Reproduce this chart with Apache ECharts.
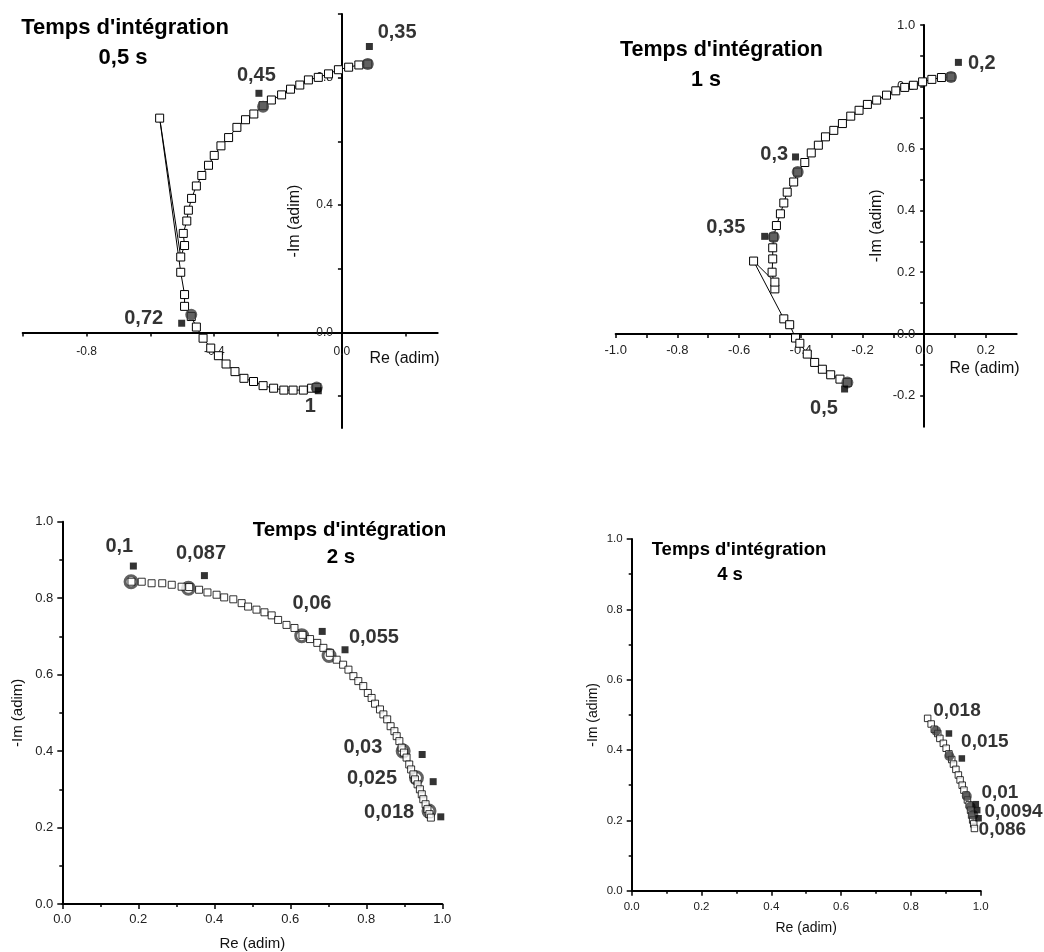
<!DOCTYPE html>
<html><head><meta charset="utf-8">
<script src="https://cdn.jsdelivr.net/npm/echarts/dist/echarts.min.js"></script>
<style>html,body{margin:0;padding:0;background:#fff}#c{width:1044px;height:952px}</style>
</head><body><div id="c"></div>
<script>
// ---------- Panel 1 : 0,5 s ----------
const p1Squares = [[0.081,0.843],[0.053,0.840],[0.021,0.833],[-0.011,0.825],[-0.042,0.812],[-0.074,0.801],[-0.105,0.793],[-0.132,0.777],[-0.161,0.764],[-0.189,0.746],[-0.221,0.730],[-0.247,0.712],[-0.276,0.686],[-0.302,0.668],[-0.329,0.644],[-0.355,0.612],[-0.379,0.586],[-0.400,0.556],[-0.418,0.525],[-0.439,0.493],[-0.456,0.460],[-0.471,0.421],[-0.481,0.384],[-0.486,0.350],[-0.497,0.311],[-0.493,0.273],[-0.505,0.237],[-0.571,0.673],[-0.505,0.189],[-0.493,0.119],[-0.493,0.082],[-0.472,0.050],[-0.456,0.017],[-0.435,-0.018],[-0.411,-0.049],[-0.387,-0.073],[-0.363,-0.099],[-0.335,-0.123],[-0.307,-0.144],[-0.277,-0.154],[-0.247,-0.167],[-0.214,-0.175],[-0.182,-0.181],[-0.153,-0.181],[-0.121,-0.181],[-0.095,-0.175],[-0.079,-0.173]];
const p1Circles = [[0.081,0.843],[-0.247,0.709],[-0.472,0.056],[-0.079,-0.173]];
const p1Marks = [[0.086,0.898],[-0.260,0.751],[-0.502,0.029],[-0.074,-0.183]];
const p1Notes = [['0,35',0.173,0.941],['0,45',-0.268,0.806],['0,72',-0.621,0.043],['1',-0.099,-0.233]];
const p1Title = ["Temps d'intégration", '0,5 s'];
const p1XTicks = [-1.0,-0.8,-0.6,-0.4,-0.2,0,0.2];
const p1XLabels = [-0.8,-0.4,0];
const p1YTicks = [-0.2,0,0.2,0.4,0.6,0.8,1.0];
const p1YLabels = [0,0.4,0.8];

// ---------- Panel 2 : 1 s ----------
const p2Squares = [[0.087,0.832],[0.056,0.830],[0.025,0.824],[-0.005,0.816],[-0.035,0.805],[-0.063,0.798],[-0.092,0.787],[-0.122,0.773],[-0.154,0.757],[-0.184,0.743],[-0.211,0.724],[-0.238,0.705],[-0.265,0.681],[-0.293,0.659],[-0.320,0.638],[-0.343,0.611],[-0.366,0.586],[-0.387,0.555],[-0.410,0.524],[-0.423,0.492],[-0.444,0.459],[-0.455,0.424],[-0.466,0.389],[-0.479,0.351],[-0.488,0.314],[-0.491,0.279],[-0.491,0.243],[-0.493,0.200],[-0.484,0.146],[-0.484,0.168],[-0.553,0.236],[-0.455,0.049],[-0.436,0.030],[-0.417,-0.013],[-0.403,-0.030],[-0.379,-0.065],[-0.355,-0.092],[-0.330,-0.114],[-0.303,-0.132],[-0.273,-0.146],[-0.249,-0.157]];
const p2Circles = [[0.087,0.832],[-0.410,0.524],[-0.488,0.314],[-0.249,-0.157]];
const p2Marks = [[0.111,0.879],[-0.417,0.573],[-0.517,0.316],[-0.258,-0.178]];
const p2Notes = [['0,2',0.187,0.874],['0,3',-0.486,0.580],['0,35',-0.643,0.345],['0,5',-0.325,-0.242]];
const p2Title = ["Temps d'intégration", '1 s'];
const p2XTicks = [-1.0,-0.9,-0.8,-0.7,-0.6,-0.5,-0.4,-0.3,-0.2,-0.1,0,0.1,0.2];
const p2XLabels = [-1.0,-0.8,-0.6,-0.4,-0.2,0,0.2];
const p2YTicks = [-0.2,-0.1,0,0.1,0.2,0.3,0.4,0.5,0.6,0.7,0.8,0.9,1.0];
const p2YLabels = [-0.2,0,0.2,0.4,0.6,0.8,1.0];

// ---------- Panel 3 : 2 s ----------
const p3Squares = [[0.182,0.843],[0.209,0.843],[0.235,0.839],[0.263,0.839],[0.288,0.835],[0.314,0.830],[0.334,0.829],[0.360,0.822],[0.382,0.815],[0.406,0.809],[0.426,0.802],[0.450,0.797],[0.472,0.787],[0.489,0.778],[0.511,0.770],[0.532,0.763],[0.551,0.755],[0.568,0.743],[0.590,0.730],[0.611,0.722],[0.632,0.704],[0.652,0.693],[0.671,0.683],[0.687,0.670],[0.704,0.657],[0.722,0.639],[0.739,0.626],[0.753,0.613],[0.766,0.596],[0.779,0.583],[0.792,0.570],[0.804,0.552],[0.814,0.539],[0.823,0.524],[0.836,0.509],[0.845,0.496],[0.855,0.483],[0.864,0.465],[0.874,0.452],[0.880,0.439],[0.887,0.426],[0.893,0.409],[0.899,0.396],[0.906,0.383],[0.913,0.365],[0.918,0.352],[0.924,0.339],[0.928,0.326],[0.935,0.313],[0.941,0.300],[0.946,0.287],[0.950,0.274],[0.956,0.261],[0.961,0.248],[0.966,0.235],[0.970,0.226]];
const p3Circles = [[0.181,0.843],[0.332,0.826],[0.630,0.702],[0.702,0.650],[0.897,0.400],[0.932,0.330],[0.965,0.243]];
const p3Marks = [[0.187,0.884],[0.374,0.859],[0.684,0.713],[0.744,0.665],[0.947,0.391],[0.976,0.320],[0.996,0.228]];
const p3Notes = [['0,1',0.150,0.934],['0,087',0.365,0.918],['0,06',0.657,0.785],['0,055',0.820,0.697],['0,03',0.791,0.410],['0,025',0.815,0.329],['0,018',0.860,0.240]];
const p3Title = ["Temps d'intégration", '2 s'];

// ---------- Panel 4 : 4 s ----------
const p4Squares = [[0.848,0.490],[0.858,0.474],[0.867,0.459],[0.877,0.447],[0.883,0.433],[0.893,0.419],[0.901,0.405],[0.909,0.389],[0.917,0.373],[0.922,0.360],[0.929,0.345],[0.936,0.329],[0.941,0.315],[0.947,0.300],[0.952,0.286],[0.958,0.272],[0.962,0.258],[0.967,0.244],[0.971,0.229],[0.974,0.215],[0.977,0.201],[0.980,0.190],[0.982,0.177]];
const p4Circles = [[0.872,0.455],[0.910,0.383],[0.960,0.269],[0.971,0.239],[0.979,0.215]];
const p4Marks = [[0.909,0.447],[0.946,0.376],[0.986,0.246],[0.990,0.229],[0.994,0.206]];
const p4Notes = [['0,018',0.932,0.511],['0,015',1.012,0.423],['0,01',1.055,0.278],['0,0094',1.094,0.224],['0,086',1.062,0.173]];
const p4Title = ["Temps d'intégration", '4 s'];

const unitTicks = [0,0.2,0.4,0.6,0.8,1.0];

// ---------------- building ----------------
const FONT = 'Arial, "Liberation Sans", Helvetica, sans-serif';
const chart = echarts.init(document.getElementById('c'), null, {renderer:'canvas'});

const panels = [
  {grid:{left:22.7,top:14,width:415,height:414}, x:[-1.0,0.3], y:[-0.3,1.0], cross:true,
   xt:p1XTicks, xl:p1XLabels, yt:p1YTicks, yl:p1YLabels, lab:12, xMargin:13, nameSize:16,
   xName:{loc:'end', gap:2, pad:18}, yName:{gap:39},
   sq:p1Squares, sqSize:8, line:true, ci:p1Circles, ciSize:12, ring:false, mk:p1Marks, mkSize:7, notes:p1Notes, noteSize:20,
   title:p1Title, tSize:22, t1:[125,28], t2:[123,58]},
  {grid:{left:615.7,top:25,width:401,height:401.7}, x:[-1.0,0.3], y:[-0.3,1.0], cross:true,
   xt:p2XTicks, xl:p2XLabels, yt:p2YTicks, yl:p2YLabels, lab:13, xMargin:10, nameSize:16,
   xName:{loc:'end', gap:3, pad:27}, yName:{gap:40},
   sq:p2Squares, sqSize:8, line:true, ci:p2Circles, ciSize:12, ring:false, mk:p2Marks, mkSize:7, notes:p2Notes, noteSize:20,
   title:p2Title, tSize:21.5, t1:[721.5,50], t2:[706,80]},
  {grid:{left:62.3,top:521.7,width:380,height:383.3}, x:[0,1], y:[0,1], cross:false,
   lab:13, xMargin:9, nameSize:15, xName:{loc:'middle', gap:32}, yName:{gap:37},
   sq:p3Squares, sqSize:7, line:false, ci:p3Circles, ciSize:12, ring:true, mk:p3Marks, mkSize:7, notes:p3Notes, noteSize:20,
   title:p3Title, tSize:20.5, t1:[349.5,530], t2:[341,557]},
  {grid:{left:631.7,top:539,width:349,height:351.7}, x:[0,1], y:[0,1], cross:false,
   lab:11.5, xMargin:10, nameSize:14, xName:{loc:'middle', gap:30}, yName:{gap:32},
   sq:p4Squares, sqSize:6.5, line:false, ci:p4Circles, ciSize:10, ring:false, mk:p4Marks, mkSize:6.5, notes:p4Notes, noteSize:19,
   title:p4Title, tSize:18.5, t1:[739,550], t2:[730,575]}
];

const grids = [], xAxes = [], yAxes = [], series = [], graphics = [];
const fmt = v => Number(v).toFixed(1);

panels.forEach((p, i) => {
  grids.push(Object.assign({containLabel:false}, p.grid));
  const lineStyle = {color:'#000', width:2};
  const tickStyle = {color:'#000', width:1.5};
  const mkAxis = (isX) => {
    const ext = isX ? p.x : p.y;
    const a = {
      gridIndex:i, type:'value', min:ext[0], max:ext[1],
      position: isX ? 'bottom' : 'left',
      axisLine:{show:true, onZero:false, lineStyle},
      splitLine:{show:false},
      axisLabel:{show:true, formatter:fmt, fontSize:p.lab, color:'#222', fontFamily:FONT, margin: isX ? p.xMargin : 9},
      axisTick:{show:true, length:5, lineStyle:tickStyle},
      name: isX ? 'Re (adim)' : '-Im (adim)',
      nameTextStyle:{fontSize:p.nameSize, color:'#111', fontFamily:FONT}
    };
    if (p.cross) {
      // place the axis through the origin of the other axis
      const other = isX ? p.y : p.x;
      const span = isX ? p.grid.height : p.grid.width;
      a.offset = -((0 - other[0]) / (other[1] - other[0])) * span;
      a.axisTick.customValues = isX ? p.xt : p.yt;
      a.axisLabel.customValues = isX ? p.xl : p.yl;
      a.axisTick.length = 4;
    } else {
      a.interval = 0.2;
      a.axisLabel.customValues = unitTicks;
      a.minorTick = {show:true, splitNumber:2, length:3, lineStyle:tickStyle};
    }
    if (isX) {
      if (p.xName.loc === 'end') {
        a.nameLocation = 'end'; a.nameGap = p.xName.gap;
        Object.assign(a.nameTextStyle, {align:'right', verticalAlign:'top', padding:[p.xName.pad,0,0,0]});
      } else {
        a.nameLocation = 'middle'; a.nameGap = p.xName.gap;
      }
    } else {
      a.nameLocation = 'middle'; a.nameGap = p.yName.gap;
    }
    return a;
  };
  xAxes.push(mkAxis(true));
  yAxes.push(mkAxis(false));

  const sqSeries = {
    type: p.line ? 'line' : 'scatter', xAxisIndex:i, yAxisIndex:i, data:p.sq, z:3,
    symbol:'rect', symbolSize:p.sqSize, silent:true, animation:false,
    itemStyle:{color:'#fff', borderColor:'#000', borderWidth:1}
  };
  if (p.line) Object.assign(sqSeries, {showSymbol:true, showAllSymbol:true, lineStyle:{color:'#000', width:1}, emphasis:{disabled:true}});
  const ciSeries = {
    type:'scatter', xAxisIndex:i, yAxisIndex:i, data:p.ci, symbol:'circle', symbolSize:p.ciSize,
    silent:true, animation:false, z: p.ring ? 2 : 4,
    itemStyle: p.ring ? {color:'rgba(0,0,0,0)', borderColor:'#3a3a3a', borderWidth:3} : {color:'#3a3a3a'}
  };
  series.push(sqSeries, ciSeries);
  series.push({
    type:'scatter', xAxisIndex:i, yAxisIndex:i, data:p.mk, symbol:'rect', symbolSize:p.mkSize, z:5,
    silent:true, animation:false, itemStyle:{color:'#000'}
  });
  series.push({
    type:'scatter', xAxisIndex:i, yAxisIndex:i, clip:false, silent:true, animation:false, z:6,
    data:p.notes.map(n => ({name:n[0], value:[n[1], n[2]]})), symbolSize:0,
    label:{show:true, position:'inside', formatter:'{b}', fontSize:p.noteSize, fontWeight:'bold',
           color:'#000', fontFamily:FONT, align:'center', verticalAlign:'middle'}
  });
  [[p.title[0], p.t1], [p.title[1], p.t2]].forEach(([txt, pos]) => {
    graphics.push({type:'text', x:pos[0], y:pos[1], silent:true,
      style:{text:txt, font:'bold ' + p.tSize + 'px ' + FONT, fill:'#000', align:'center', verticalAlign:'middle', textAlign:'center', textVerticalAlign:'middle'}});
  });
});

chart.setOption({
  backgroundColor:'#fff', animation:false,
  textStyle:{fontFamily:FONT},
  grid:grids, xAxis:xAxes, yAxis:yAxes, series, graphic:graphics
});
</script></body></html>
